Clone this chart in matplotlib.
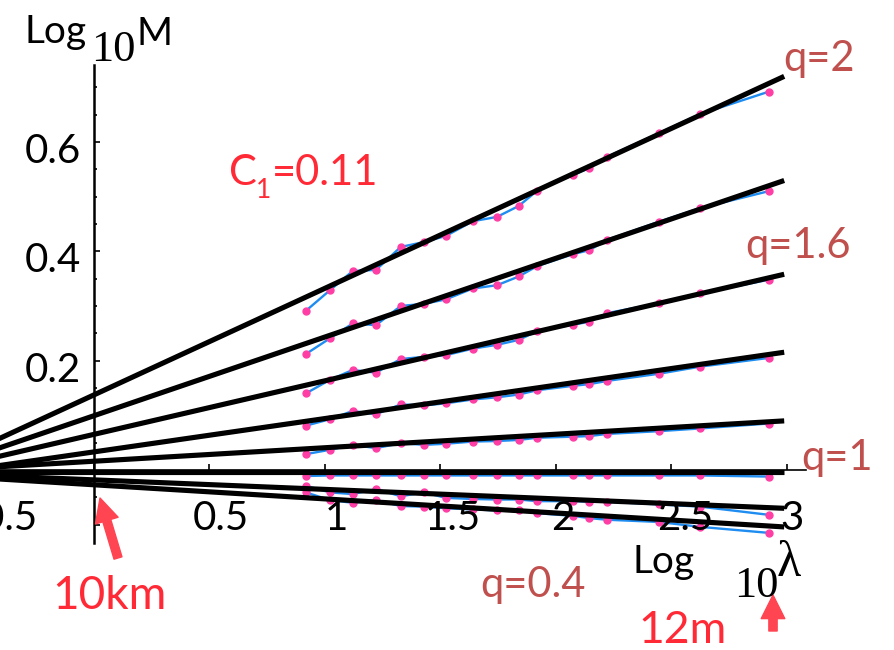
import matplotlib
matplotlib.use("Agg")
import matplotlib.pyplot as plt
from matplotlib.ticker import FixedLocator

# ---- data -----------------------------------------------------------------
log_lambda = [0.919, 1.024, 1.122, 1.223, 1.330, 1.431, 1.525, 1.642, 1.747,
              1.841, 1.921, 2.077, 2.146, 2.224, 2.447, 2.626, 2.923]

q_values = [2.0, 1.8, 1.6, 1.4, 1.2, 1.0, 0.8, 0.4]

log_m = {
    2.0: [0.291, 0.329, 0.364, 0.366, 0.408, 0.417, 0.428, 0.455, 0.463,
          0.483, 0.511, 0.540, 0.552, 0.573, 0.616, 0.651, 0.692],
    1.8: [0.212, 0.241, 0.268, 0.265, 0.300, 0.304, 0.312, 0.332, 0.338,
          0.354, 0.373, 0.395, 0.402, 0.421, 0.454, 0.479, 0.510],
    1.6: [0.140, 0.165, 0.183, 0.178, 0.203, 0.207, 0.210, 0.222, 0.229,
          0.238, 0.254, 0.266, 0.271, 0.287, 0.305, 0.323, 0.348],
    1.4: [0.081, 0.093, 0.108, 0.102, 0.120, 0.118, 0.122, 0.129, 0.133,
          0.138, 0.146, 0.154, 0.157, 0.163, 0.176, 0.189, 0.205],
    1.2: [0.029, 0.037, 0.046, 0.040, 0.049, 0.046, 0.048, 0.052, 0.053,
          0.055, 0.059, 0.061, 0.062, 0.066, 0.071, 0.076, 0.085],
    1.0: [-0.011, -0.010, -0.010, -0.010, -0.010, -0.010, -0.010, -0.010, -0.010,
          -0.010, -0.010, -0.010, -0.010, -0.010, -0.010, -0.010, -0.012],
    0.8: [-0.029, -0.041, -0.044, -0.035, -0.048, -0.041, -0.051, -0.053, -0.054,
          -0.054, -0.057, -0.057, -0.058, -0.058, -0.063, -0.067, -0.082],
    0.4: [-0.041, -0.055, -0.060, -0.055, -0.066, -0.067, -0.070, -0.072, -0.074,
          -0.073, -0.079, -0.084, -0.088, -0.091, -0.095, -0.104, -0.115],
}

# fitted scaling lines: log10 M = intercept + K(q) * log10 lambda
fit_intercept = [0.137, 0.099, 0.065, 0.033, 0.016, -0.004, -0.018, -0.027]
fit_slope_K = [0.195, 0.144, 0.098, 0.061, 0.0247, 0.0, -0.0174, -0.0258]

x_ticks = [-0.5, 0.5, 1, 1.5, 2, 2.5, 3]
x_tick_labels = ["-0.5", "0.5", "1", "1.5", "2", "2.5", "3"]
y_ticks = [0.2, 0.4, 0.6]
y_tick_labels = ["0.2", "0.4", "0.6"]

q_labels = ["q=2", "q=1.6", "q=1", "q=0.4"]

# ---- styling ----------------------------------------------------------------
SANS = "Lato"
SERIF = "Liberation Serif"
plt.rcParams["font.family"] = [SANS, "DejaVu Sans"]

BLUE = "#1E8CF0"
PINK = "#FF3EA5"
Q_RED = "#C0504D"
RED = "#FF2A36"
ARROW_RED = "#FF4452"

W, H = 894, 650
fig = plt.figure(figsize=(W / 100, H / 100), dpi=100)
ax = fig.add_axes([0, 0, 1, 1])

x0_px, x_scale = 93.5, 231.0      # pixel of log10 lambda = 0, pixels per unit
y0_px, y_scale = 470.0, 546.7     # pixel row of log10 M = 0, pixels per unit
ax.set_xlim(-x0_px / x_scale, (W - x0_px) / x_scale)
ax.set_ylim(-(H - y0_px) / y_scale, y0_px / y_scale)

# measured structure functions
for q in q_values:
    ax.plot(log_lambda, log_m[q], color=BLUE, lw=1.7, zorder=2,
            marker="o", ms=5, mfc=PINK, mec=PINK, solid_capstyle="round")

# scaling fits
x_left, x_right = -0.8, 2.99
for a, k in zip(fit_intercept, fit_slope_K):
    ax.plot([x_left, x_right], [a + k * x_left, a + k * x_right],
            color="black", lw=3.7, solid_capstyle="butt", zorder=3)

# axes through the origin
for s in ("top", "right"):
    ax.spines[s].set_visible(False)
ax.spines["left"].set_position(("data", 0))
ax.spines["bottom"].set_position(("data", 0))
ax.spines["left"].set_bounds(-0.134, 0.741)
ax.spines["bottom"].set_bounds(-0.405, 3.085)
ax.spines["left"].set_linewidth(1.8)
ax.spines["bottom"].set_linewidth(1.2)
ax.spines["left"].set_zorder(1)
ax.spines["bottom"].set_zorder(1)

ax.xaxis.set_major_locator(FixedLocator([-0.5, 0, 0.5, 1, 1.5, 2, 2.5, 3]))
ax.yaxis.set_major_locator(FixedLocator([-0.1, 0.2, 0.4, 0.6]))
ax.yaxis.set_minor_locator(FixedLocator([-0.1, -0.05, 0.05, 0.1, 0.15, 0.25, 0.3,
                                         0.35, 0.45, 0.5, 0.55, 0.65, 0.7]))
ax.tick_params(axis="both", which="major", direction="in", length=4.5, width=1.2,
               labelbottom=False, labelleft=False)
ax.tick_params(axis="y", which="minor", direction="in", length=2.5, width=1.2)

# tick labels (shifted slightly right of their ticks)
x_label_shift_px = [24, 12, 12, 13, 7, 14, 5]
for v, lab, dx in zip(x_ticks, x_tick_labels, x_label_shift_px):
    ax.text(v + dx / x_scale, -60 / y_scale, lab, fontsize=29, ha="center",
            va="baseline", clip_on=False)
for v, lab in zip(y_ticks, y_tick_labels):
    ax.text(-13 / x_scale, v - 21 / y_scale, lab, fontsize=29, ha="right",
            va="baseline", clip_on=False)


def fig_text(px, py, s, **kw):
    fig.text(px / W, 1 - py / H, s, va="baseline", ha="left", **kw)


# axis titles
fig_text(25, 43, "Log", fontsize=28)
fig_text(91, 61, "10", fontsize=32, family=SERIF)
fig_text(137, 45, "M", fontsize=28)

fig_text(633, 573, "Log", fontsize=28)
fig_text(734, 597, "10", fontsize=32, family=SERIF)
fig_text(777, 576, "λ", fontsize=36, family=SERIF)

# q annotations
fig_text(783, 71, q_labels[0], fontsize=30, color=Q_RED)
fig_text(745, 258, q_labels[1], fontsize=30, color=Q_RED)
fig_text(801, 470, q_labels[2], fontsize=30, color=Q_RED)
fig_text(480, 597, q_labels[3], fontsize=30, color=Q_RED)

# codimension annotation
fig_text(229, 185, "C", fontsize=30, color=RED)
fig_text(256, 198, "1", fontsize=19, color=RED)
fig_text(272, 185, "=0.11", fontsize=30, color=RED)

# scale markers
fig_text(52, 609, "10km", fontsize=33, color=RED)
fig_text(638, 643, "12m", fontsize=32, color=RED)

arrow_kw = dict(arrowstyle="simple,head_length=1.0,head_width=1.0,tail_width=0.35",
                color=ARROW_RED, mutation_scale=17, shrinkA=0, shrinkB=0)
ax.annotate("", xy=(100, H - 498), xytext=(118, H - 558),
            xycoords="figure pixels", textcoords="figure pixels", arrowprops=arrow_kw)
ax.annotate("", xy=(773, H - 595), xytext=(773, H - 631),
            xycoords="figure pixels", textcoords="figure pixels", arrowprops=arrow_kw)

fig.savefig("out.png", dpi=100)
